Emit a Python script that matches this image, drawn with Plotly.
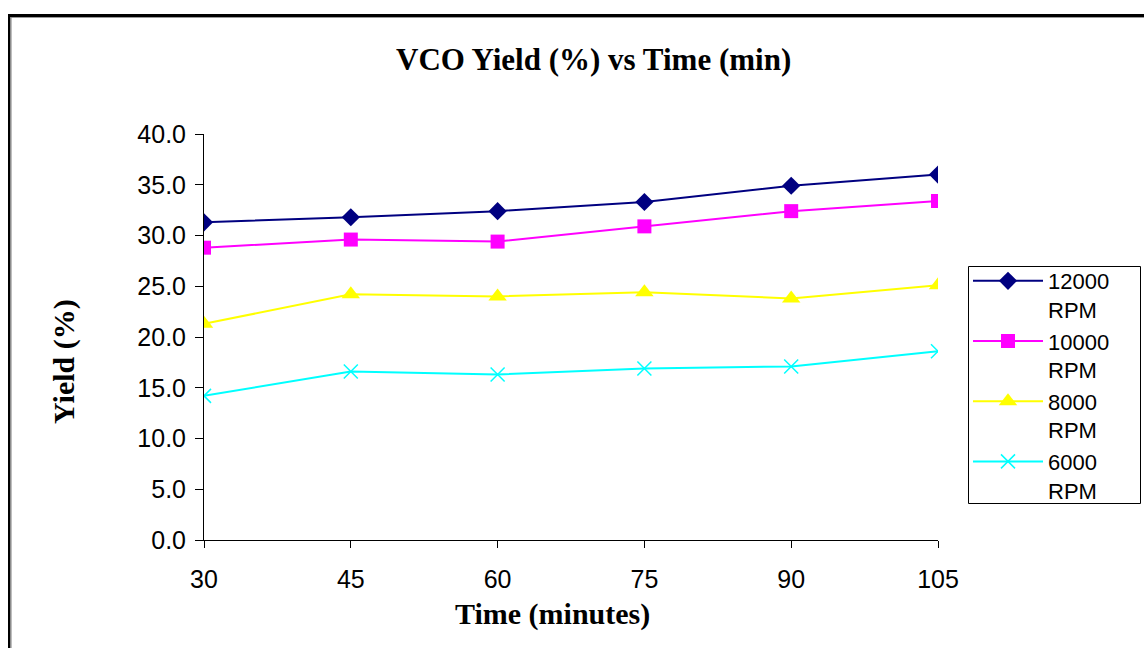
import plotly.graph_objects as go

times = [30, 45, 60, 75, 90, 105]
rpm_12000 = [31.3, 31.8, 32.4, 33.3, 34.9, 36.0]
rpm_10000 = [28.8, 29.6, 29.4, 30.9, 32.4, 33.4]
rpm_8000 = [21.3, 24.2, 24.0, 24.4, 23.8, 25.1]
rpm_6000 = [14.2, 16.6, 16.3, 16.9, 17.1, 18.6]
series_names = ["12000<br>RPM", "10000<br>RPM", "8000<br>RPM", "6000<br>RPM"]
y_ticks = [0, 5, 10, 15, 20, 25, 30, 35, 40]

W, H = 1144, 648
L, R, T, B = 204, 206, 134, 108
pw, ph = W - L - R, H - T - B


def px(x):
    return (x - L) / pw


def py(y):
    return (H - B - y) / ph


styles = [
    dict(color="#000080", symbol="diamond", size=14, lw=2),
    dict(color="#FF00FF", symbol="square", size=14, lw=2),
    dict(color="#FFFF00", symbol="triangle-up", size=16, lw=2),
    dict(color="#00FFFF", symbol="x-thin", size=14, lw=2),
]

fig = go.Figure()
for name, vals, st in zip(series_names, [rpm_12000, rpm_10000, rpm_8000, rpm_6000], styles):
    marker = dict(symbol=st["symbol"], size=st["size"], color=st["color"])
    if st["symbol"] == "x-thin":
        marker["line"] = dict(color=st["color"], width=1.5)
    fig.add_trace(go.Scatter(
        x=times, y=vals, name=name, mode="lines+markers",
        line=dict(color=st["color"], width=st["lw"]),
        marker=marker,
    ))

fig.update_layout(
    width=W, height=H,
    margin=dict(l=L, r=R, t=T, b=B),
    paper_bgcolor="white", plot_bgcolor="white",
    font=dict(family="Liberation Sans, Arial", size=24, color="black"),
    showlegend=True,
    legend=dict(
        x=px(968), y=py(260), xanchor="left", yanchor="top",
        borderwidth=0, bgcolor="rgba(0,0,0,0)",
        font=dict(family="Liberation Sans, Arial", size=22, color="black"),
        tracegroupgap=0, itemwidth=70, valign="top",
    ),
    xaxis=dict(
        range=[30, 105], tickvals=times, ticktext=[str(t) for t in times],
        showgrid=False, zeroline=False, showline=True, linecolor="black", linewidth=1,
        ticks="outside", ticklen=7, tickcolor="black",
        tickfont=dict(size=25), ticklabelstandoff=10,
    ),
    yaxis=dict(
        range=[0, 40], tickvals=y_ticks, ticktext=[f"{v:.1f}" for v in y_ticks],
        showgrid=False, zeroline=False, showline=True, linecolor="black", linewidth=1,
        ticks="outside", ticklen=8, tickcolor="black",
        tickfont=dict(size=25), ticklabelstandoff=4,
    ),
    annotations=[
        dict(text="<b>VCO Yield (%) vs Time (min)</b>", x=px(593), y=py(60),
             xref="paper", yref="paper", showarrow=False, xanchor="center", yanchor="middle",
             font=dict(family="Liberation Serif, Times New Roman", size=31, color="black")),
        dict(text="<b>Time (minutes)</b>", x=px(552), y=py(614),
             xref="paper", yref="paper", showarrow=False, xanchor="center", yanchor="middle",
             font=dict(family="Liberation Serif, Times New Roman", size=30, color="black")),
        dict(text="<b>Yield (%)</b>", x=px(64), y=py(362), textangle=-90,
             xref="paper", yref="paper", showarrow=False, xanchor="center", yanchor="middle",
             font=dict(family="Liberation Serif, Times New Roman", size=30, color="black")),
    ],
    shapes=[
        # legend box
        dict(type="rect", xref="paper", yref="paper", x0=px(968.5), x1=px(1140.5), y0=py(503.5), y1=py(266.5),
             line=dict(color="black", width=1), fillcolor="white", layer="below"),
        # outer frame
        dict(type="line", xref="paper", yref="paper", x0=px(8), x1=px(1150), y0=py(15.5), y1=py(15.5),
             line=dict(color="black", width=3)),
        dict(type="line", xref="paper", yref="paper", x0=px(8), x1=px(1150), y0=py(17.5), y1=py(17.5),
             line=dict(color="#999999", width=1)),
        dict(type="line", xref="paper", yref="paper", x0=px(9), x1=px(9), y0=py(14), y1=py(660),
             line=dict(color="black", width=2)),
        dict(type="line", xref="paper", yref="paper", x0=px(10.8), x1=px(10.8), y0=py(17), y1=py(660),
             line=dict(color="#888888", width=1.5)),
    ],
)

fig.write_html("out.html")
